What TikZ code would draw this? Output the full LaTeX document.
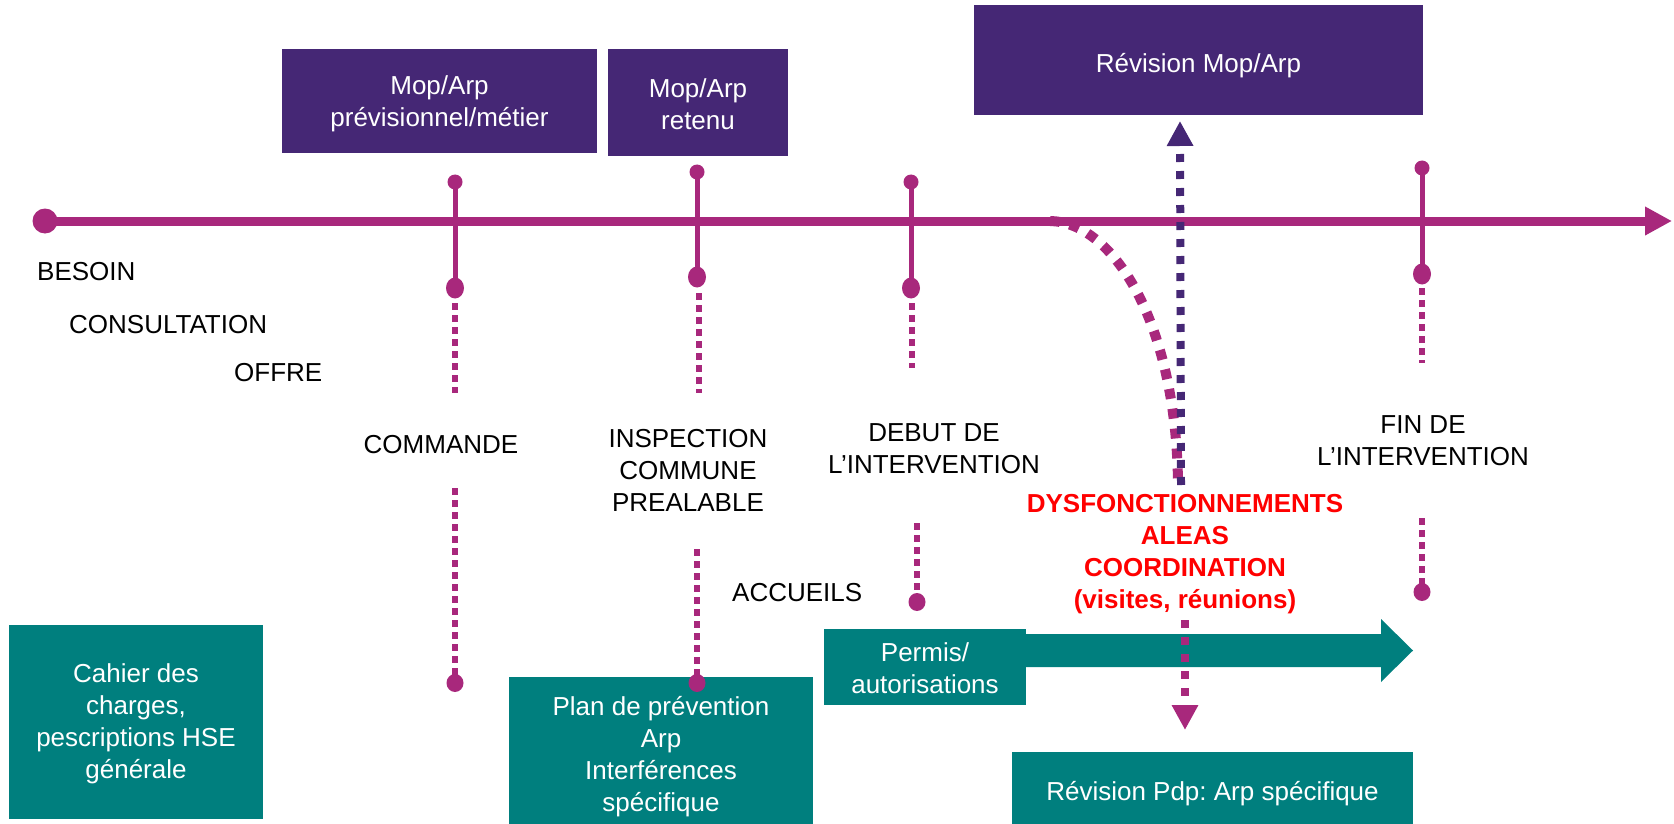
\documentclass[tikz,border=0pt]{standalone}
\usepackage{fontspec}
\setmainfont{Liberation Sans}
\usetikzlibrary{shapes.geometric,arrows.meta}
\pgfdeclarelayer{bg}
\pgfsetlayers{bg,main}
\definecolor{purp}{HTML}{452775}
\definecolor{mag}{HTML}{A8287C}
\definecolor{tealc}{HTML}{007F7E}
\definecolor{alarmred}{HTML}{FF0000}
\newcommand{\fsz}{\fontsize{26}{32}\selectfont}
\frenchspacing
\begin{document}
\begin{tikzpicture}[x=1pt,y=-1pt,
  lbl/.style={font=\fsz, inner sep=0pt, align=center, text=black},
  wlbl/.style={font=\fsz, inner sep=0pt, align=center, text=white},
  alarm/.style={font=\fsz\bfseries, inner sep=0pt, align=center, text=alarmred},
  pbox/.style={fill=purp, inner sep=0pt},
  tbox/.style={fill=tealc, inner sep=0pt},
  tickline/.style={draw=mag, line width=5pt},
  dotline/.style={draw=mag, line width=6pt, dash pattern=on 6.5pt off 5.5pt},
  topdot/.style={fill=mag, circle, inner sep=0pt, minimum size=15pt},
  botdot/.style={fill=mag, ellipse, inner sep=0pt, minimum width=18pt, minimum height=21pt},
  enddot/.style={fill=mag, ellipse, inner sep=0pt, minimum width=17pt, minimum height=18pt},
  bigdot/.style={fill=mag, circle, inner sep=0pt, minimum size=25pt},
]
\useasboundingbox (0,0) rectangle (1674,824);

% purple boxes
\node[pbox, minimum width=315, minimum height=104] (mop1) at (439.5,101) {};
\node[wlbl] (mop1t) at (439.5,104) {Mop/Arp\\prévisionnel/métier};
\node[pbox, minimum width=180, minimum height=107] (mop2) at (698,102.5) {};
\node[wlbl] (mop2t) at (698,104) {Mop/Arp\\retenu};
\node[pbox, minimum width=449, minimum height=110] (revmop) at (1198.5,60) {};
\node[wlbl] (revmopt) at (1198.5,66) {Révision Mop/Arp};

% teal boxes
\node[tbox, minimum width=254, minimum height=194] (cahier) at (136,722) {};
\node[wlbl] (cahiert) at (136,724) {Cahier des\\charges,\\pescriptions HSE\\générale};
\node[tbox, minimum width=304, minimum height=147] (plan) at (661,750.5) {};
\node[wlbl] (plant) at (661,757) {Plan de prévention\\Arp\\Interférences\\spécifique};
\fill[tealc] (1020,634) -- (1381,634) -- (1381,619) -- (1413,650.5) -- (1381,682) -- (1381,667) -- (1020,667) -- cycle;
\node[tbox, minimum width=202, minimum height=76] (permis) at (925,667) {};
\node[wlbl] (permist) at (925,668) {Permis/\\autorisations};
\node[tbox, minimum width=401, minimum height=72] (revpdp) at (1212.5,788) {};
\node[wlbl] (revpdpt) at (1212.5,794) {Révision Pdp: Arp spécifique};

% timeline
\node[bigdot] (start) at (45,221) {};
\coordinate (tip) at (1672,221);

% tick dots
\node[topdot] (t1a) at (455,182) {};
\node[botdot] (t1b) at (455,288) {};
\node[enddot] (t1c) at (455,683) {};
\node[topdot] (t2a) at (697,172) {};
\node[botdot] (t2b) at (697,277) {};
\node[enddot] (t2c) at (697,683) {};
\node[topdot] (t3a) at (911,182) {};
\node[botdot] (t3b) at (911,288) {};
\node[enddot] (t3c) at (917,602) {};
\node[topdot] (t4a) at (1422,168) {};
\node[botdot] (t4b) at (1422,274) {};
\node[enddot] (t4c) at (1422,592) {};

% dotted segment ends
\coordinate (d1a) at (455,303); \coordinate (d1b) at (455,393); \coordinate (d1c) at (455,488);
\coordinate (d2a) at (699,293); \coordinate (d2b) at (699,393); \coordinate (d2c) at (697,549);
\coordinate (d3a) at (912,303); \coordinate (d3b) at (912,368); \coordinate (d3c) at (917,523);
\coordinate (d4a) at (1422,288); \coordinate (d4b) at (1422,363); \coordinate (d4c) at (1422,518);

\begin{pgfonlayer}{bg}
\draw[mag, line width=9pt, -{Triangle[length=27pt,width=27pt]}] (start.center) -- (tip);
\draw[tickline] (t1a.center) -- (t1b.center);
\draw[tickline] (t2a.center) -- (t2b.center);
\draw[tickline] (t3a.center) -- (t3b.center);
\draw[tickline] (t4a.center) -- (t4b.center);
\draw[dotline] (d1a) -- (d1b);
\draw[dotline] (d1c) -- (t1c.center);
\draw[dotline] (d2a) -- (d2b);
\draw[dotline] (d2c) -- (t2c.center);
\draw[dotline] (d3a) -- (d3b);
\draw[dotline] (d3c) -- (t3c.center);
\draw[dotline] (d4a) -- (d4b);
\draw[dotline] (d4c) -- (t4c.center);
\end{pgfonlayer}

% labels
\node[lbl, anchor=west] (besoin) at (37,272) {BESOIN};
\node[lbl, anchor=west] (consult) at (69,325) {CONSULTATION};
\node[lbl, anchor=west] (offre) at (234,373) {OFFRE};
\node[lbl] (commande) at (441,445) {COMMANDE};
\node[lbl] (inspection) at (688,470) {INSPECTION\\COMMUNE\\PREALABLE};
\node[lbl] (debut) at (934,449) {DEBUT DE\\L’INTERVENTION};
\node[lbl] (fin) at (1423,441) {FIN DE\\L’INTERVENTION};
\node[lbl, anchor=west] (accueils) at (732,593) {ACCUEILS};
\node[alarm] (dysf) at (1185,554) {DYSFONCTIONNEMENTS\\ALEAS\\COORDINATION\\(visites, réunions)};

% magenta curve
\coordinate (cv0) at (1050,221);
\coordinate (cv1) at (1178,483);
\draw[mag, line width=10pt, dash pattern=on 10pt off 10pt] (cv0) .. controls (1112,222) and (1176,320) .. (cv1);

% purple dashed arrow up
\coordinate (pa0) at (1181,485);
\coordinate (pa1) at (1180,121);
\draw[purp, line width=8pt, dash pattern=on 8pt off 9pt, -{Triangle[length=25pt,width=25pt]}] (pa0) -- (pa1);

% magenta dashed arrow down
\coordinate (ma0) at (1185,620);
\coordinate (ma1) at (1185,730);
\draw[mag, line width=8pt, dash pattern=on 8pt off 9pt, -{Triangle[length=25pt,width=25pt]}] (ma0) -- (ma1);
\end{tikzpicture}
\end{document}
